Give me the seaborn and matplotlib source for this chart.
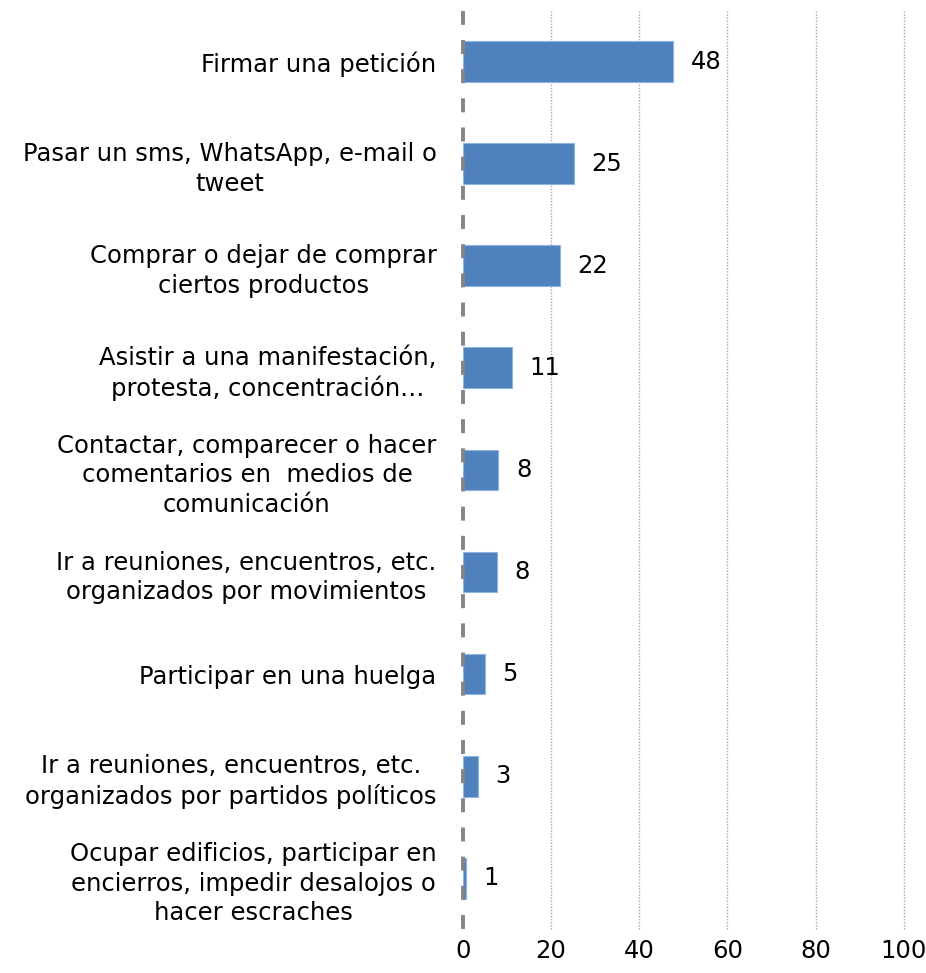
import matplotlib
matplotlib.use("Agg")
import matplotlib.pyplot as plt
import seaborn as sns
import pandas as pd

categories = [
    "Firmar una petición",
    "Pasar un sms, WhatsApp, e-mail o\ntweet",
    "Comprar o dejar de comprar\nciertos productos",
    "Asistir a una manifestación,\nprotesta, concentración…",
    "Contactar, comparecer o hacer\ncomentarios en  medios de\ncomunicación",
    "Ir a reuniones, encuentros, etc.\norganizados por movimientos",
    "Participar en una huelga",
    "Ir a reuniones, encuentros, etc.\norganizados por partidos políticos",
    "Ocupar edificios, participar en\nencierros, impedir desalojos o\nhacer escraches",
]
values = [47.6, 25.2, 21.9, 11.1, 8.0, 7.7, 4.9, 3.4, 0.7]
value_labels = ["48", "25", "22", "11", "8", "8", "5", "3", "1"]
x_ticks = [0, 20, 40, 60, 80, 100]

sns.set_theme(style="white")
plt.rcParams['font.family'] = ['DejaVu Sans']

FS = 17.5

df = pd.DataFrame({"cat": categories, "val": values})

fig = plt.figure(figsize=(9.26, 9.73), dpi=100)
ax = fig.add_axes([0.5, 0.045, 0.476, 0.944])

sns.barplot(data=df, y="cat", x="val", orient="h", color="#4F81BD",
            width=0.4, ax=ax, saturation=1, edgecolor="#8EB4E3", linewidth=0.8)

ax.set_xlim(0, 100)
ax.set_ylim(len(categories) - 0.5, -0.5)
ax.set_xticks(x_ticks)
ax.set_xticklabels([str(t) for t in x_ticks], fontsize=FS, color="black")
ax.set_xlabel("")
ax.set_ylabel("")
for lbl in ax.get_yticklabels():
    lbl.set_fontsize(FS)
    lbl.set_multialignment("center")
    lbl.set_linespacing(1.3)
    lbl.set_color("black")
ax.tick_params(axis="both", length=0)
ax.tick_params(axis="x", pad=7)
ax.tick_params(axis="y", pad=19)

for t in x_ticks[1:]:
    ax.axvline(t, color="#A6A6A6", linestyle=(0, (1, 1.2)), linewidth=1.0,
               zorder=0, clip_on=False)
ax.axvline(0, color="#858585", linestyle=(0, (3.6, 3.9)), linewidth=2.8,
           zorder=5, clip_on=False)

for spine in ax.spines.values():
    spine.set_visible(False)

for i, (v, lab) in enumerate(zip(values, value_labels)):
    ax.text(v + 4, i, lab, va="center", ha="left", fontsize=FS, color="black")

fig.savefig("out.png", dpi=100)
